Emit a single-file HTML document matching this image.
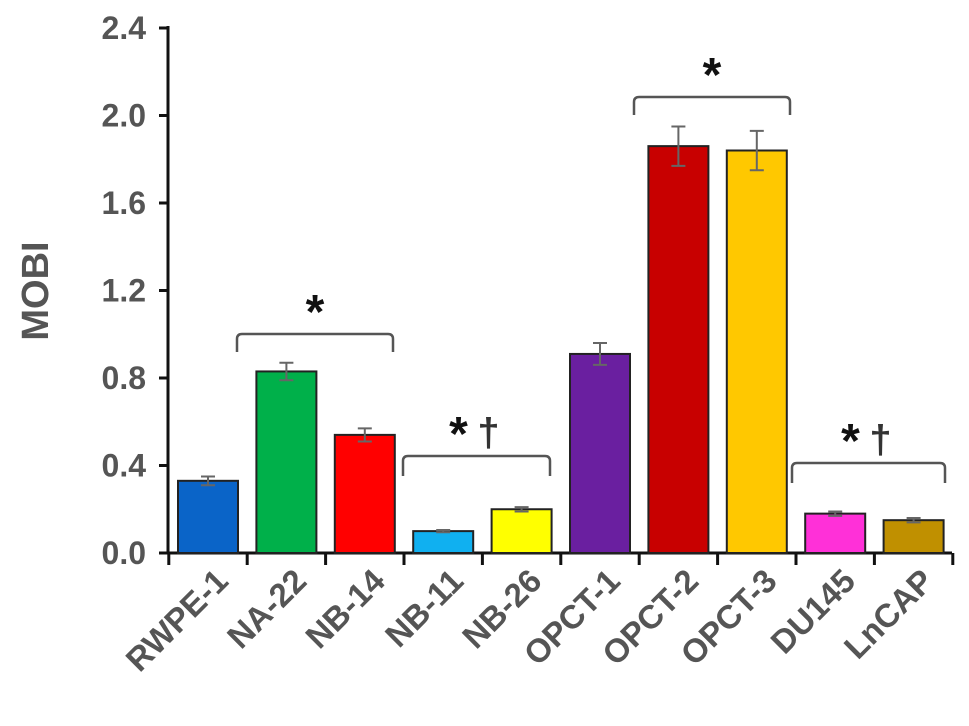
<!DOCTYPE html>
<html><head><meta charset="utf-8"><style>
body{margin:0;background:#fff;}
svg{display:block;font-family:"Liberation Sans",Arial,sans-serif;}
</style></head><body>
<svg id="chart" width="969" height="726">
<g id="g"></g>
</svg>
<script>
const categories=["RWPE-1","NA-22","NB-14","NB-11","NB-26","OPCT-1","OPCT-2","OPCT-3","DU145","LnCAP"];
const values=[0.33,0.83,0.54,0.10,0.20,0.91,1.86,1.84,0.18,0.15];
const errors=[0.02,0.04,0.03,0.005,0.01,0.05,0.09,0.09,0.01,0.01];
const colors=["#0a64c8","#00b04a","#ff0000","#10b0f0","#ffff00","#6a1fa0","#c80000","#ffc800","#ff30d8","#c09000"];
const yTicks=[0,0.4,0.8,1.2,1.6,2.0,2.4];
const yTickLabels=["0.0","0.4","0.8","1.2","1.6","2.0","2.4"];
const NS="http://www.w3.org/2000/svg";
const g=document.getElementById('g');
const y0=553,yk=218.75;
const y=v=>y0-v*yk;
const x=i=>208+i*78.4;
const bw=60;
function el(t,a,p){const e=document.createElementNS(NS,t);for(const k in a)e.setAttribute(k,a[k]);(p||g).appendChild(e);return e;}
let e;
e=el('line',{x1:168,y1:y(2.4)-2,x2:168,y2:y0+1,stroke:'#111','stroke-width':3});


e=el('line',{x1:166,y1:y0,x2:952,y2:y0,stroke:'#111','stroke-width':3});


yTicks.forEach((t,i)=>{
 e=el('line',{x1:159,y1:y(t),x2:168,y2:y(t),stroke:'#111','stroke-width':3});
 
 
 e=el('text',{x:146,y:y(t)+11,'text-anchor':'end','font-size':32,'font-weight':'bold',fill:'#555'});
 e.textContent=yTickLabels[i];
 
 
});
for(let i=0;i<=categories.length;i++){
 const xx=x(i)-39.2;
 e=el('line',{x1:xx,y1:y0,x2:xx,y2:y0+12,stroke:'#111','stroke-width':3});
 
 
}
categories.forEach((c,i)=>{
 e=el('rect',{x:x(i)-bw/2,y:y(values[i]),width:bw,height:values[i]*yk,fill:colors[i],stroke:'#222','stroke-width':2});
 
 
 const t=y(values[i]+errors[i]),b=y(values[i]-errors[i]);
 e=el('path',{d:`M${x(i)},${t}V${b}M${x(i)-7},${t}H${x(i)+7}M${x(i)-7},${b}H${x(i)+7}`,stroke:'#666','stroke-width':2,fill:'none'});
 
 
 const lx=x(i)+22,ly=y0+30;
 e=el('text',{x:lx,y:ly,'text-anchor':'end','font-size':33,'font-weight':'bold',fill:'#555',transform:`rotate(-45 ${lx} ${ly})`});
 e.textContent=c;
 
 
});
e=el('text',{x:0,y:0,'text-anchor':'middle','font-size':38,'font-weight':'bold',fill:'#555',transform:'translate(48 291) rotate(-90)'});
e.textContent='MOBI';


function bracket(x1,x2,yt,yb,name,dag){
 e=el('path',{d:`M${x1},${yb}V${yt+5}Q${x1},${yt} ${x1+5},${yt}H${x2-5}Q${x2},${yt} ${x2},${yt+5}V${yb}`,stroke:'#555','stroke-width':2.5,fill:'none'});
 
 
 const cx=(x1+x2)/2;
 e=el('text',{x:dag?cx-18:cx,y:yt-6,'text-anchor':'middle','font-size':48,'font-weight':'bold',fill:'#111'});
 e.textContent='*';
 
 
 if(dag){
  e=el('text',{x:cx+12,y:yt-10,'text-anchor':'middle','font-size':40,'font-weight':'bold',fill:'#333'});
  e.textContent='†';
  
  
 }
}
bracket(237,393,334,352,'na-nb14',false);
bracket(403,550,456,476,'nb11-nb26',true);
bracket(634,790,97,115,'opct',false);
bracket(792,945,463,483,'du-lncap',true);
</script>
</body></html>
